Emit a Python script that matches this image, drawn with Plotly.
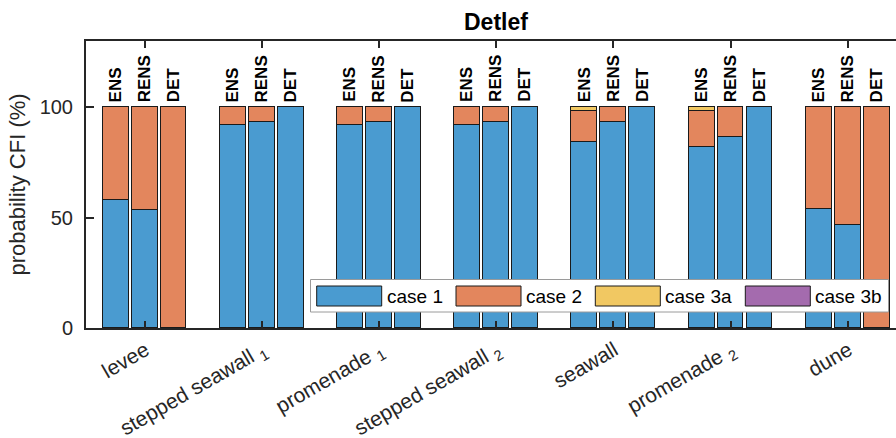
import plotly.graph_objects as go

# ---- data ----
categories = ["levee", "stepped seawall <sub>1</sub>", "promenade <sub>1</sub>",
              "stepped seawall <sub>2</sub>", "seawall", "promenade <sub>2</sub>", "dune"]
runs = ["ENS", "RENS", "DET"]
case_names = ["case 1", "case 2", "case 3a", "case 3b"]

# values per category for each run (ENS, RENS, DET)
case1_ENS = [58.1, 92.0, 92.0, 92.0, 84.2, 82.2, 54.0]
case1_RENS = [53.3, 93.5, 93.5, 93.5, 93.5, 86.7, 46.6]
case1_DET = [0, 100, 100, 100, 100, 100, 0]

case2_ENS = [41.9, 8.0, 8.0, 8.0, 14.1, 16.2, 46.0]
case2_RENS = [46.7, 6.5, 6.5, 6.5, 6.5, 13.3, 53.4]
case2_DET = [100, 0, 0, 0, 0, 0, 100]

case3a_ENS = [0, 0, 0, 0, 1.7, 1.6, 0]
case3a_RENS = [0, 0, 0, 0, 0, 0, 0]
case3a_DET = [0, 0, 0, 0, 0, 0, 0]

case3b_ENS = [0, 0, 0, 0, 0, 0, 0]
case3b_RENS = [0, 0, 0, 0, 0, 0, 0]
case3b_DET = [0, 0, 0, 0, 0, 0, 0]

colors = ["#4A9BD0", "#E3865D", "#F1C862", "#A46BAE"]

# ---- layout helpers ----
offset = 0.247
bar_w = 0.221
xs, per_run = [], []
for i in range(len(categories)):
    for j, r in enumerate(runs):
        xs.append(i + 1 + (j - 1) * offset)
        per_run.append((i, j))

series = [
    (case1_ENS, case1_RENS, case1_DET),
    (case2_ENS, case2_RENS, case2_DET),
    (case3a_ENS, case3a_RENS, case3a_DET),
    (case3b_ENS, case3b_RENS, case3b_DET),
]

fig = go.Figure()
for name, col, s in zip(case_names, colors, series):
    vals = [s[j][i] for (i, j) in per_run]
    fig.add_trace(go.Bar(x=xs, y=vals, name=name, width=bar_w,
                         marker=dict(color=col, line=dict(color="#1a1a1a", width=1)),
                         showlegend=False))

FONT = "Liberation Sans, Arial, Helvetica, sans-serif"
TXT = "#262626"

annotations = []
# run labels above bars
for x, (i, j) in zip(xs, per_run):
    annotations.append(dict(x=x, y=100, xref="x", yref="y", text="<b>%s</b>" % runs[j],
                            textangle=-90, showarrow=False, xanchor="center", yanchor="bottom",
                            yshift=3, font=dict(family=FONT, size=17, color="#000000")))

L, R, T, B = 86, 0, 41, 110
W, H = 896, 438
pw, ph = W - L - R, H - T - B
def px(xp):
    return (xp - L) / pw
def py(yp):
    return (H - B - yp) / ph

# title
annotations.append(dict(x=px(496.5), y=1, xref="paper", yref="paper", text="<b>Detlef</b>",
                        showarrow=False, xanchor="center", yanchor="bottom", yshift=4,
                        font=dict(family=FONT, size=23, color="#000000")))

# custom legend (MATLAB style wide swatches)
shapes = [dict(type="rect", xref="paper", yref="paper", x0=px(310.5), x1=px(888.5),
               y0=py(312), y1=py(279.5), fillcolor="white", line=dict(color="#9a9a9a", width=1))]
sw_x = [316.7, 456.0, 595.3, 745.3]
for k, (name, col) in enumerate(zip(case_names, colors)):
    x0 = sw_x[k]
    shapes.append(dict(type="rect", xref="paper", yref="paper", x0=px(x0), x1=px(x0 + 65),
                       y0=py(306), y1=py(286), fillcolor=col, line=dict(color="#1a1a1a", width=1)))
    annotations.append(dict(x=px(x0 + 68), y=py(296), xref="paper", yref="paper", text=name,
                            showarrow=False, xanchor="left", yanchor="middle",
                            font=dict(family=FONT, size=19, color="#000000")))

fig.update_layout(
    width=W, height=H, margin=dict(l=L, r=R, t=T, b=B, pad=0, autoexpand=False),
    barmode="stack", bargap=0,
    plot_bgcolor="white", paper_bgcolor="white",
    font=dict(family=FONT, size=20, color=TXT),
    annotations=annotations, shapes=shapes, showlegend=False,
)
fig.update_xaxes(range=[0.5, 1 + (896 - 144) / 117.28], tickmode="array",
                 tickvals=list(range(1, len(categories) + 1)), ticktext=categories,
                 tickangle=-30, ticks="inside", ticklen=7, tickwidth=1.5, tickcolor=TXT,
                 showline=True, linecolor=TXT, linewidth=2, mirror="ticks", automargin=False,
                 ticklabelstandoff=0, ticklabelshift=1,
                 showgrid=False, zeroline=False, tickfont=dict(size=21, color=TXT))
fig.update_yaxes(range=[0, 130], tickmode="array", tickvals=[0, 50, 100],
                 ticks="inside", ticklen=8, tickwidth=1.5, tickcolor=TXT,
                 showline=True, linecolor=TXT, linewidth=2, mirror=False, automargin=False,
                 showgrid=False, zeroline=False, ticklabelstandoff=7,
                 tickfont=dict(size=20, color=TXT),
                 title=dict(text="probability CFI (%)", font=dict(size=22, color=TXT), standoff=8))

fig.write_html("out.html", config={"displayModeBar": False},
               post_script="document.body.style.margin='0';document.body.style.overflow='hidden';")
